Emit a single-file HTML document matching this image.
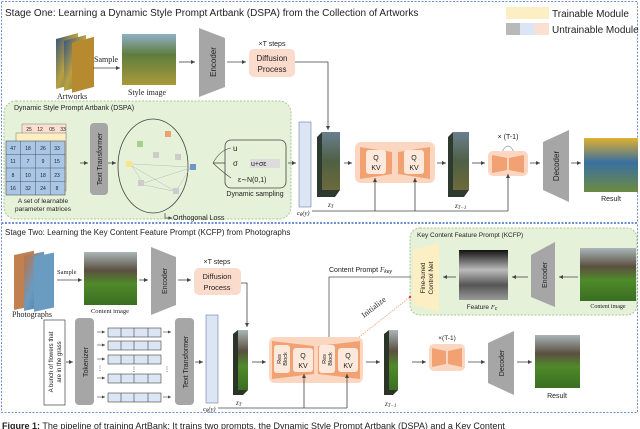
<!DOCTYPE html>
<html><head><meta charset="utf-8"><style>
html,body{margin:0;padding:0;background:#fff}
svg{display:block}
text{font-family:"Liberation Sans",sans-serif;fill:#222}
.s{font-family:"Liberation Serif",serif}
</style></head><body>
<svg width="640" height="429" viewBox="0 0 640 429" xmlns="http://www.w3.org/2000/svg">
<defs>
<marker id="a" markerWidth="6" markerHeight="6" refX="5" refY="3" orient="auto"><path d="M0,0.5 L5,3 L0,5.5z" fill="#444"/></marker>
<linearGradient id="art" x1="0" y1="0" x2="1" y2="1"><stop offset="0" stop-color="#3d5a7a"/><stop offset=".5" stop-color="#b9a042"/><stop offset="1" stop-color="#5e7c3a"/></linearGradient>
<linearGradient id="sty" x1="0" y1="0" x2="0" y2="1"><stop offset="0" stop-color="#8fb0c8"/><stop offset=".4" stop-color="#5f7d3f"/><stop offset="1" stop-color="#a89a3a"/></linearGradient>
<linearGradient id="res1" x1="0" y1="0" x2="0" y2="1"><stop offset="0" stop-color="#e0b030"/><stop offset=".45" stop-color="#3a6fa0"/><stop offset="1" stop-color="#6c8a42"/></linearGradient>
<linearGradient id="zt" x1="0" y1="0" x2="0" y2="1"><stop offset="0" stop-color="#6a7f90"/><stop offset=".5" stop-color="#4e6044"/><stop offset="1" stop-color="#6d6a3a"/></linearGradient>
<linearGradient id="ph" x1="0" y1="0" x2="0" y2="1"><stop offset="0" stop-color="#aab6b8"/><stop offset=".35" stop-color="#5b5040"/><stop offset=".6" stop-color="#4f8a2a"/><stop offset="1" stop-color="#3a6e22"/></linearGradient>
<linearGradient id="phs" x1="0" y1="0" x2="1" y2="1"><stop offset="0" stop-color="#c07040"/><stop offset=".5" stop-color="#6a9bc0"/><stop offset="1" stop-color="#4a7aa8"/></linearGradient>
<linearGradient id="feat" x1="0" y1="0" x2="0" y2="1"><stop offset="0" stop-color="#111"/><stop offset=".4" stop-color="#bbb"/><stop offset=".7" stop-color="#555"/><stop offset="1" stop-color="#999"/></linearGradient>
</defs>

<!-- stage borders -->
<rect x="1.5" y="1.5" width="636" height="221" fill="none" stroke="#6f8fd0" stroke-dasharray="2,1.5"/>
<rect x="1.5" y="223.5" width="636" height="189" fill="none" stroke="#6f8fd0" stroke-dasharray="2,1.5"/>

<text x="5" y="16" font-size="10">Stage One: Learning a Dynamic Style Prompt Artbank (DSPA) from the Collection of Artworks</text>
<!-- legend -->
<rect x="506" y="7" width="43" height="12" fill="#fdefc4"/>
<text x="552" y="17" font-size="10" fill="#555">Trainable Module</text>
<rect x="506" y="23" width="14" height="12" fill="#b9b9b9"/>
<rect x="520" y="23" width="15" height="12" fill="#dbe5f3"/>
<rect x="535" y="23" width="14" height="12" fill="#fbe0d2"/>
<text x="552" y="33" font-size="10" fill="#555">Untrainable Module</text>

<!-- artworks -->
<rect x="56" y="34" width="22" height="50" fill="url(#art)" transform="skewY(-15) translate(0,20)"/>
<rect x="64" y="34" width="22" height="50" fill="url(#art)" transform="skewY(-15) translate(0,24)"/>
<rect x="72" y="34" width="22" height="50" fill="#b88a30" transform="skewY(-15) translate(0,28)"/>
<text x="57" y="99" font-size="8" class="s">Artworks</text>
<line x1="93" y1="68" x2="120" y2="68" stroke="#444" stroke-width=".8" marker-end="url(#a)"/>
<text x="94" y="62" font-size="8" class="s">Sample</text>
<rect x="122" y="34" width="54" height="51" fill="url(#sty)"/>
<text x="128" y="95" font-size="8" class="s">Style image</text>
<line x1="179" y1="62" x2="195" y2="62" stroke="#444" stroke-width=".8" marker-end="url(#a)"/>
<polygon points="199,28 225,38 225,87 199,97" fill="#a6a6a6"/>
<text transform="translate(216,62) rotate(-90)" font-size="8" text-anchor="middle" fill="#333">Encoder</text>
<line x1="227" y1="62" x2="246" y2="62" stroke="#444" stroke-width=".8" marker-end="url(#a)"/>
<text x="272" y="46" font-size="7" text-anchor="middle">×T steps</text>
<rect x="249" y="49" width="46" height="28" rx="5" fill="#fbdccc"/>
<text x="272" y="61" font-size="8" text-anchor="middle">Diffusion</text>
<text x="272" y="72" font-size="8" text-anchor="middle">Process</text>
<polyline points="295,62 328,62 328,130" fill="none" stroke="#444" stroke-width=".8" marker-end="url(#a)"/>

<!-- DSPA -->
<rect x="4" y="101" width="287" height="118" rx="12" fill="#e6f1da" stroke="#a9c98f" stroke-dasharray="2,1.5"/>
<text x="14" y="110" font-size="7">Dynamic Style Prompt Artbank (DSPA)</text>
<g font-size="5" text-anchor="middle">
<rect x="22" y="124" width="44" height="58" fill="#fbe0d2" stroke="#777" stroke-width=".5"/>
<rect x="16" y="133" width="50" height="58" fill="#fdefc4" stroke="#777" stroke-width=".5"/>
<text x="29" y="131">25</text><text x="40" y="131">12</text><text x="52" y="131">05</text><text x="63" y="131">33</text>
<rect x="6" y="141" width="59" height="54" fill="#a9c6e6" stroke="#555" stroke-width=".6"/>
<path d="M20.7,141V195M35.5,141V195M50.2,141V195M6,154.5H65M6,168H65M6,181.5H65" stroke="#555" stroke-width=".5"/>
<text x="13" y="150">47</text><text x="28" y="150">18</text><text x="43" y="150">26</text><text x="57" y="150">33</text>
<text x="13" y="163">11</text><text x="28" y="163">7</text><text x="43" y="163">9</text><text x="57" y="163">15</text>
<text x="13" y="177">8</text><text x="28" y="177">10</text><text x="43" y="177">18</text><text x="57" y="177">23</text>
<text x="13" y="190">16</text><text x="28" y="190">32</text><text x="43" y="190">24</text><text x="57" y="190">8</text>
</g>
<text x="43" y="203" font-size="6.5" text-anchor="middle">A set of learnable</text>
<text x="43" y="211" font-size="6.5" text-anchor="middle">parameter matrices</text>
<line x1="80" y1="163" x2="88" y2="163" stroke="#444" stroke-width=".8" marker-end="url(#a)"/>
<rect x="90" y="123" width="18" height="72" rx="4" fill="#a6a6a6"/>
<text transform="translate(102,159) rotate(-90)" font-size="7" text-anchor="middle">Text Transformer</text>
<line x1="108" y1="163" x2="116" y2="163" stroke="#444" stroke-width=".8" marker-end="url(#a)"/>
<ellipse cx="153" cy="166" rx="35" ry="47" fill="none" stroke="#444" stroke-width=".8"/>
<rect x="165" y="131" width="6" height="6" fill="#f0a070"/>
<rect x="137" y="141" width="6" height="6" fill="#a6d08a"/>
<rect x="153" y="152" width="6" height="6" fill="#ccc"/>
<rect x="175" y="154" width="6" height="6" fill="#ccc"/>
<rect x="126" y="161" width="6" height="6" fill="#fde38a"/>
<rect x="190" y="164" width="6" height="6" fill="#6d95cf"/>
<rect x="138" y="180" width="6" height="6" fill="#ccc"/>
<rect x="173" y="188" width="6" height="6" fill="#ccc"/>
<path d="M132,164 L190,167 M132,166 L141,180 M132,166 L173,190 M190,168 L144,183 M190,168 L178,188 M144,185 L173,191" stroke="#bbb" stroke-width=".5"/>
<path d="M165,213 V218 H172" fill="none" stroke="#444" stroke-width=".7" marker-end="url(#a)"/>
<text x="173" y="220" font-size="7">Orthogonal Loss</text>
<line x1="213" y1="163" x2="225" y2="163" stroke="#444" stroke-width=".8"/>
<path d="M213,163 Q220,150 231,148 M213,163 Q220,170 231,178" fill="none" stroke="#444" stroke-width=".6"/>
<rect x="225" y="140" width="61" height="48" rx="6" fill="none" stroke="#444" stroke-width=".8"/>
<text x="233" y="151" font-size="8">u</text>
<text x="233" y="166" font-size="8">σ</text>
<rect x="250" y="159" width="30" height="9" fill="#dcdcdc"/>
<text x="251" y="166" font-size="7">u+σε</text>
<text x="238" y="182" font-size="7">ε∼N(0,1)</text>
<text x="255" y="196" font-size="7" text-anchor="middle">Dynamic sampling</text>
<line x1="288" y1="163" x2="296" y2="163" stroke="#444" stroke-width=".8" marker-end="url(#a)"/>
<rect x="299" y="122" width="12" height="85" fill="#dbe5f3" stroke="#6a7fa0" stroke-width=".6"/>
<text x="297" y="215" font-size="6.5" class="s" font-style="italic">c<tspan font-size="5" dy="1">θ</tspan><tspan dy="-1">(y)</tspan></text>

<!-- z_T stage1 -->
<polygon points="317,137 322,132 340,132 340,190 335,197 317,197" fill="#2e3a30"/>
<rect x="322" y="132" width="18" height="58" fill="url(#zt)"/>
<text x="328" y="207" font-size="7" class="s" font-style="italic">z<tspan font-size="5" dy="1">T</tspan></text>
<line x1="344" y1="163" x2="352" y2="163" stroke="#444" stroke-width=".8" marker-end="url(#a)"/>
<rect x="355" y="142" width="80" height="41" rx="6" fill="#fbd7c2"/>
<polygon points="360,147 392,152 392,174 360,179" fill="#f2a272"/>
<polygon points="398,152 430,147 430,179 398,174" fill="#f2a272"/>
<rect x="366" y="150" width="20" height="24" rx="3" fill="#fde9dc"/>
<rect x="404" y="150" width="20" height="24" rx="3" fill="#fde9dc"/>
<text x="376" y="160" font-size="7" text-anchor="middle">Q</text><text x="376" y="170" font-size="7" text-anchor="middle">KV</text>
<text x="414" y="160" font-size="7" text-anchor="middle">Q</text><text x="414" y="170" font-size="7" text-anchor="middle">KV</text>
<line x1="437" y1="163" x2="446" y2="163" stroke="#444" stroke-width=".8" marker-end="url(#a)"/>
<polygon points="448,137 453,132 469,132 469,190 464,197 448,197" fill="#2e3a30"/>
<rect x="453" y="132" width="16" height="58" fill="url(#zt)"/>
<text x="455" y="208" font-size="7" class="s" font-style="italic">z<tspan font-size="5" dy="1">T−1</tspan></text>
<line x1="472" y1="163" x2="485" y2="163" stroke="#444" stroke-width=".8" marker-end="url(#a)"/>
<text x="508" y="139" font-size="7" text-anchor="middle">× (T-1)</text>
<path d="M502,152 Q508,140 514,152" fill="none" stroke="#999" stroke-width=".8"/>
<rect x="488" y="151" width="40" height="25" rx="5" fill="#fbd7c2"/>
<polygon points="492,155 507,158 507,170 492,173" fill="#f2a272"/>
<polygon points="509,158 524,155 524,173 509,170" fill="#f2a272"/>
<line x1="530" y1="163" x2="540" y2="163" stroke="#444" stroke-width=".8" marker-end="url(#a)"/>
<polygon points="543,142 569,130 569,202 543,190" fill="#a6a6a6"/>
<text transform="translate(559,166) rotate(-90)" font-size="8" text-anchor="middle" fill="#333">Decoder</text>
<line x1="571" y1="163" x2="581" y2="163" stroke="#444" stroke-width=".8" marker-end="url(#a)"/>
<rect x="584" y="138" width="54" height="54" fill="url(#res1)"/>
<text x="611" y="201" font-size="7" text-anchor="middle">Result</text>
<polyline points="312,211 508,211" fill="none" stroke="#444" stroke-width=".8"/>
<line x1="375" y1="211" x2="375" y2="178" stroke="#444" stroke-width=".8" marker-end="url(#a)"/>
<line x1="415" y1="211" x2="415" y2="178" stroke="#444" stroke-width=".8" marker-end="url(#a)"/>
<line x1="508" y1="211" x2="508" y2="174" stroke="#444" stroke-width=".8" marker-end="url(#a)"/>

<!-- Stage two -->
<text x="5" y="235" font-size="8">Stage Two: Learning the Key Content Feature Prompt (KCFP) from Photographs</text>
<rect x="14" y="254" width="20" height="55" fill="#c08050" transform="skewY(-12) translate(0,4)"/>
<rect x="24" y="254" width="20" height="55" fill="url(#phs)" transform="skewY(-12) translate(0,7)"/>
<rect x="34" y="254" width="20" height="55" fill="#6a9bc0" transform="skewY(-12) translate(0,10)"/>
<text x="12" y="317" font-size="8" class="s">Photographs</text>
<line x1="57" y1="280" x2="82" y2="280" stroke="#444" stroke-width=".8" marker-end="url(#a)"/>
<text x="57" y="274" font-size="6.5" class="s">Sample</text>
<rect x="84" y="252" width="53" height="53" fill="url(#ph)"/>
<text x="110" y="313" font-size="6.5" class="s" text-anchor="middle">Content image</text>
<line x1="139" y1="280" x2="148" y2="280" stroke="#444" stroke-width=".8" marker-end="url(#a)"/>
<polygon points="151,247 176,257 176,305 151,315" fill="#a6a6a6"/>
<text transform="translate(167,281) rotate(-90)" font-size="7" text-anchor="middle" fill="#333">Encoder</text>
<line x1="178" y1="280" x2="191" y2="280" stroke="#444" stroke-width=".8" marker-end="url(#a)"/>
<text x="217" y="264" font-size="7" text-anchor="middle">×T steps</text>
<rect x="194" y="268" width="47" height="27" rx="5" fill="#fbdccc"/>
<text x="217" y="279" font-size="7.5" text-anchor="middle">Diffusion</text>
<text x="217" y="290" font-size="7.5" text-anchor="middle">Process</text>
<polyline points="241,283 247,283 247,327" fill="none" stroke="#444" stroke-width=".8" marker-end="url(#a)"/>

<!-- KCFP -->
<rect x="410" y="228" width="227" height="87" rx="10" fill="#e6f1da" stroke="#a9c98f" stroke-dasharray="2,1.5"/>
<text x="417" y="237" font-size="6.5">Key Content Feature Prompt (KCFP)</text>
<polygon points="413,250 439,243 439,312 413,305" fill="#fdefc4"/>
<text transform="translate(425,278) rotate(-90)" font-size="6.5" text-anchor="middle">Fine-tuned</text>
<text transform="translate(433,278) rotate(-90)" font-size="6.5" text-anchor="middle">Control Net</text>
<line x1="456" y1="277" x2="443" y2="277" stroke="#444" stroke-width=".8" marker-end="url(#a)"/>
<rect x="459" y="250" width="49" height="50" fill="url(#feat)"/>
<text x="482" y="309" font-size="6.5" text-anchor="middle">Feature <tspan class="s" font-style="italic">F</tspan><tspan font-size="5" dy="1" font-style="italic">c</tspan></text>
<line x1="528" y1="277" x2="512" y2="277" stroke="#444" stroke-width=".8" marker-end="url(#a)"/>
<polygon points="531,255 555,242 555,307 531,297" fill="#a6a6a6"/>
<text transform="translate(547,275) rotate(-90)" font-size="7" text-anchor="middle" fill="#333">Encoder</text>
<line x1="578" y1="277" x2="559" y2="277" stroke="#444" stroke-width=".8" marker-end="url(#a)"/>
<rect x="580" y="248" width="56" height="53" fill="url(#ph)"/>
<text x="608" y="308" font-size="6" class="s" text-anchor="middle">Content image</text>
<text x="329" y="272" font-size="7">Content Prompt <tspan class="s" font-style="italic">F</tspan><tspan font-size="5" dy="1" font-style="italic">key</tspan></text>
<polyline points="411,277 329,277 329,351" fill="none" stroke="#555" stroke-width=".8" marker-end="url(#a)"/>
<line x1="349" y1="345" x2="410" y2="297" stroke="#f0a070" stroke-width=".8" stroke-dasharray="1.5,1"/>
<circle cx="410" cy="297" r="1.2" fill="#e33"/>
<text transform="translate(364,318) rotate(-38)" font-size="8" class="s">Initialize</text>

<!-- text branch -->
<rect x="44" y="320" width="21" height="85" fill="#fff" stroke="#444" stroke-width=".7"/>
<text transform="translate(53,362) rotate(-90)" font-size="6" text-anchor="middle">A bunch of flowers that</text>
<text transform="translate(61,362) rotate(-90)" font-size="6" text-anchor="middle">are in the grass</text>
<line x1="66" y1="362" x2="73" y2="362" stroke="#444" stroke-width=".8" marker-end="url(#a)"/>
<rect x="75" y="318" width="19" height="87" rx="4" fill="#a6a6a6"/>
<text transform="translate(88,362) rotate(-90)" font-size="7" text-anchor="middle">Tokenizer</text>
<g stroke="#444" stroke-width=".6">
<g fill="#dbe5f3">
<rect x="108" y="328" width="53" height="9"/><rect x="108" y="341" width="53" height="9"/><rect x="108" y="355" width="53" height="9"/><rect x="108" y="374" width="53" height="9"/><rect x="108" y="393" width="53" height="9"/>
</g>
<path d="M121,328V337M134,328V337M148,328V337M121,341V350M134,341V350M148,341V350M121,355V364M134,355V364M148,355V364M121,374V383M134,374V383M148,374V383M121,393V402M134,393V402M148,393V402"/>
</g>
<g font-size="6" text-anchor="middle"><text x="100" y="370">⋮</text><text x="134" y="371">⋮</text><text x="167" y="371">⋮</text></g>
<g stroke="#444" stroke-width=".6">
<line x1="97" y1="332" x2="105" y2="332" marker-end="url(#a)"/><line x1="97" y1="345" x2="105" y2="345" marker-end="url(#a)"/><line x1="97" y1="359" x2="105" y2="359" marker-end="url(#a)"/><line x1="97" y1="378" x2="105" y2="378" marker-end="url(#a)"/><line x1="97" y1="397" x2="105" y2="397" marker-end="url(#a)"/>
<line x1="163" y1="332" x2="171" y2="332" marker-end="url(#a)"/><line x1="163" y1="397" x2="171" y2="397" marker-end="url(#a)"/>
</g>
<rect x="175" y="318" width="19" height="87" rx="4" fill="#a6a6a6"/>
<text transform="translate(188,362) rotate(-90)" font-size="7" text-anchor="middle">Text Transformer</text>
<line x1="195" y1="362" x2="203" y2="362" stroke="#444" stroke-width=".8" marker-end="url(#a)"/>
<rect x="206" y="315" width="12" height="88" fill="#dbe5f3" stroke="#6a7fa0" stroke-width=".6"/>
<text x="203" y="411" font-size="6.5" class="s" font-style="italic">c<tspan font-size="5" dy="1">θ</tspan><tspan dy="-1">(y)</tspan></text>

<polygon points="233,334 238,330 248,330 248,390 243,395 233,395" fill="#2a3528"/>
<rect x="238" y="330" width="10" height="60" fill="url(#ph)"/>
<text x="236" y="405" font-size="7" class="s" font-style="italic">z<tspan font-size="5" dy="1">T</tspan></text>
<line x1="252" y1="362" x2="266" y2="362" stroke="#444" stroke-width=".8" marker-end="url(#a)"/>
<rect x="269" y="337" width="94" height="46" rx="6" fill="#fbd7c2"/>
<polygon points="272,341 314,346 314,374 272,379" fill="#f2a272"/>
<polygon points="318,346 360,341 360,379 318,374" fill="#f2a272"/>
<rect x="274" y="345" width="16" height="28" rx="3" fill="#fde9dc"/>
<rect x="293" y="348" width="20" height="24" rx="3" fill="#fde9dc"/>
<rect x="319" y="345" width="16" height="28" rx="3" fill="#fde9dc"/>
<rect x="338" y="348" width="20" height="24" rx="3" fill="#fde9dc"/>
<text transform="translate(281,359) rotate(-90)" font-size="5.5" text-anchor="middle">Res</text>
<text transform="translate(287,359) rotate(-90)" font-size="5.5" text-anchor="middle">Block</text>
<text transform="translate(326,359) rotate(-90)" font-size="5.5" text-anchor="middle">Res</text>
<text transform="translate(332,359) rotate(-90)" font-size="5.5" text-anchor="middle">Block</text>
<text x="303" y="358" font-size="7" text-anchor="middle">Q</text><text x="303" y="368" font-size="7" text-anchor="middle">KV</text>
<text x="348" y="358" font-size="7" text-anchor="middle">Q</text><text x="348" y="368" font-size="7" text-anchor="middle">KV</text>
<line x1="366" y1="362" x2="380" y2="362" stroke="#444" stroke-width=".8" marker-end="url(#a)"/>
<polygon points="384,334 389,330 398,330 398,390 393,395 384,395" fill="#2a3528"/>
<rect x="389" y="330" width="9" height="60" fill="url(#ph)"/>
<text x="385" y="406" font-size="7" class="s" font-style="italic">z<tspan font-size="5" dy="1">T−1</tspan></text>
<line x1="412" y1="362" x2="426" y2="362" stroke="#444" stroke-width=".8" marker-end="url(#a)"/>
<text x="447" y="340" font-size="6.5" text-anchor="middle">×(T-1)</text>
<path d="M442,351 Q447,340 452,351" fill="none" stroke="#999" stroke-width=".8"/>
<rect x="429" y="344" width="36" height="27" rx="5" fill="#fbd7c2"/>
<polygon points="432,348 446,351 446,364 432,367" fill="#f2a272"/>
<polygon points="448,351 462,348 462,367 448,364" fill="#f2a272"/>
<line x1="468" y1="362" x2="485" y2="362" stroke="#444" stroke-width=".8" marker-end="url(#a)"/>
<polygon points="488,343 514,331 514,395 488,383" fill="#a6a6a6"/>
<text transform="translate(504,363) rotate(-90)" font-size="7" text-anchor="middle" fill="#333">Decoder</text>
<line x1="517" y1="362" x2="532" y2="362" stroke="#444" stroke-width=".8" marker-end="url(#a)"/>
<rect x="535" y="335" width="45" height="53" fill="url(#ph)"/>
<text x="557" y="398" font-size="7" text-anchor="middle">Result</text>
<polyline points="218,408 347,408" fill="none" stroke="#444" stroke-width=".8"/>
<line x1="304" y1="408" x2="304" y2="374" stroke="#444" stroke-width=".8" marker-end="url(#a)"/>
<line x1="347" y1="408" x2="347" y2="374" stroke="#444" stroke-width=".8" marker-end="url(#a)"/>

<text x="2" y="429" font-size="9" fill="#333"><tspan font-weight="bold">Figure 1:</tspan> The pipeline of training ArtBank: It trains two prompts, the Dynamic Style Prompt Artbank (DSPA) and a Key Content</text>
</svg>
</body></html>
